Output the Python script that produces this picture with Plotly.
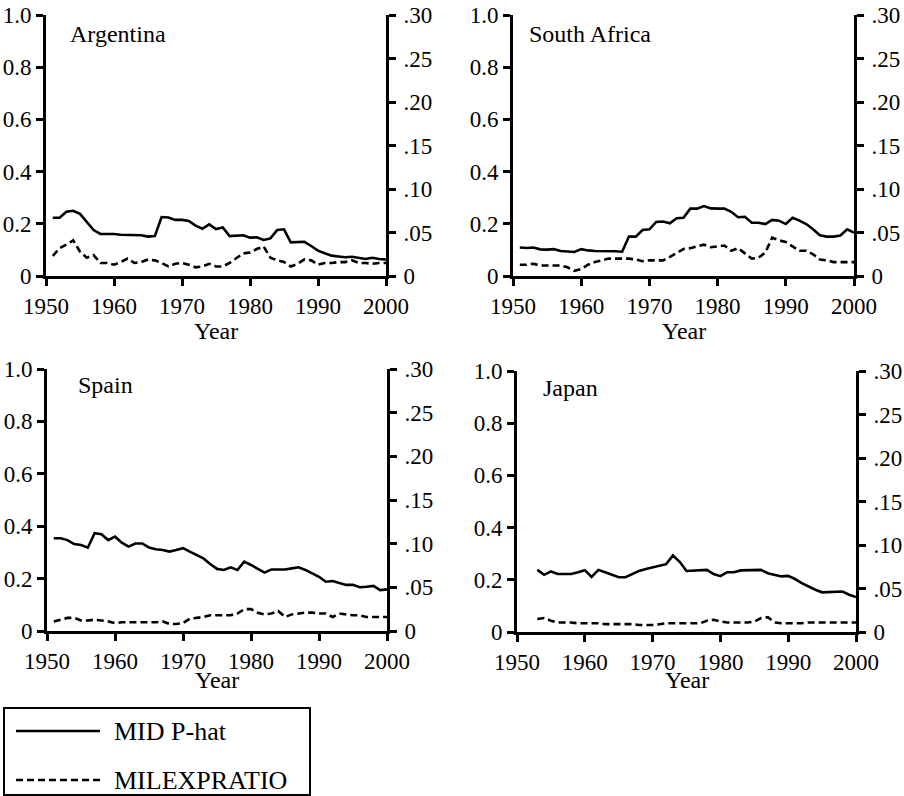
import plotly.graph_objects as go

# ---------------- data ----------------
COUNTRIES = ["Argentina", "South Africa", "Spain", "Japan"]

ARG_YEARS = list(range(1951, 2001))
ARG_PHAT = [0.223, 0.223, 0.246, 0.250, 0.238, 0.208, 0.176, 0.161, 0.161, 0.161,
            0.158, 0.158, 0.157, 0.156, 0.151, 0.153, 0.226, 0.224, 0.215, 0.215,
            0.211, 0.193, 0.181, 0.198, 0.180, 0.186, 0.153, 0.155, 0.156, 0.147,
            0.148, 0.138, 0.144, 0.176, 0.179, 0.129, 0.130, 0.131, 0.115, 0.097,
            0.087, 0.078, 0.075, 0.072, 0.074, 0.070, 0.065, 0.070, 0.065, 0.063]
ARG_MIL = [0.023, 0.032, 0.036, 0.041, 0.028, 0.021, 0.024, 0.015, 0.015, 0.013,
           0.016, 0.020, 0.015, 0.016, 0.019, 0.018, 0.015, 0.011, 0.014, 0.015,
           0.013, 0.010, 0.011, 0.014, 0.011, 0.011, 0.015, 0.020, 0.026, 0.027,
           0.031, 0.034, 0.021, 0.018, 0.016, 0.011, 0.014, 0.019, 0.018, 0.013,
           0.015, 0.015, 0.016, 0.016, 0.018, 0.015, 0.015, 0.014, 0.015, 0.015]

ZAF_YEARS = list(range(1951, 2001))
ZAF_PHAT = [0.109, 0.107, 0.109, 0.102, 0.101, 0.103, 0.096, 0.095, 0.092, 0.103,
            0.098, 0.096, 0.096, 0.095, 0.095, 0.093, 0.151, 0.151, 0.176, 0.179,
            0.207, 0.209, 0.202, 0.221, 0.223, 0.258, 0.258, 0.268, 0.259, 0.258,
            0.258, 0.246, 0.225, 0.227, 0.204, 0.204, 0.199, 0.215, 0.212, 0.199,
            0.223, 0.212, 0.199, 0.179, 0.156, 0.151, 0.151, 0.155, 0.179, 0.166]
ZAF_MIL = [0.013, 0.013, 0.014, 0.012, 0.012, 0.012, 0.012, 0.010, 0.006, 0.008,
           0.013, 0.016, 0.018, 0.020, 0.020, 0.020, 0.020, 0.019, 0.017, 0.018,
           0.018, 0.018, 0.022, 0.027, 0.031, 0.032, 0.034, 0.036, 0.033, 0.034,
           0.035, 0.029, 0.032, 0.026, 0.020, 0.021, 0.027, 0.044, 0.041, 0.039,
           0.034, 0.029, 0.029, 0.025, 0.019, 0.018, 0.016, 0.016, 0.016, 0.016]

ESP_YEARS = list(range(1951, 2001))
ESP_PHAT = [0.354, 0.354, 0.347, 0.332, 0.328, 0.318, 0.373, 0.369, 0.347, 0.360,
            0.337, 0.322, 0.334, 0.334, 0.319, 0.312, 0.309, 0.303, 0.309, 0.316,
            0.303, 0.290, 0.277, 0.256, 0.237, 0.233, 0.243, 0.233, 0.265, 0.252,
            0.237, 0.223, 0.235, 0.235, 0.235, 0.239, 0.243, 0.233, 0.220, 0.207,
            0.188, 0.191, 0.183, 0.176, 0.176, 0.167, 0.169, 0.172, 0.156, 0.159]
ESP_MIL = [0.011, 0.013, 0.015, 0.015, 0.012, 0.012, 0.013, 0.012, 0.011, 0.009,
           0.010, 0.010, 0.010, 0.010, 0.010, 0.010, 0.011, 0.008, 0.008, 0.009,
           0.014, 0.015, 0.016, 0.018, 0.018, 0.018, 0.018, 0.020, 0.025, 0.025,
           0.021, 0.019, 0.020, 0.023, 0.016, 0.019, 0.020, 0.021, 0.021, 0.020,
           0.020, 0.016, 0.020, 0.019, 0.018, 0.018, 0.016, 0.016, 0.016, 0.016]

JPN_YEARS = list(range(1953, 2001))
JPN_PHAT = [0.238, 0.219, 0.232, 0.222, 0.222, 0.222, 0.229, 0.237,
            0.211, 0.238, 0.229, 0.220, 0.210, 0.210, 0.222, 0.234, 0.241, 0.247,
            0.255, 0.260, 0.293, 0.269, 0.234, 0.236, 0.237, 0.238, 0.222, 0.214,
            0.229, 0.229, 0.236, 0.236, 0.237, 0.238, 0.225, 0.219, 0.213, 0.215,
            0.203, 0.187, 0.173, 0.162, 0.152, 0.153, 0.154, 0.155, 0.143, 0.134]
JPN_MIL = [0.015, 0.016, 0.013, 0.011, 0.011, 0.011, 0.010, 0.010,
           0.010, 0.010, 0.009, 0.009, 0.009, 0.009, 0.009, 0.008, 0.008, 0.008,
           0.009, 0.010, 0.010, 0.010, 0.010, 0.010, 0.010, 0.013, 0.014, 0.012,
           0.011, 0.011, 0.011, 0.011, 0.012, 0.016, 0.017, 0.011, 0.010, 0.010,
           0.010, 0.010, 0.011, 0.011, 0.011, 0.011, 0.011, 0.011, 0.011, 0.011]

X_TICKS = [1950, 1960, 1970, 1980, 1990, 2000]
LEFT_TICKS = [0, 0.2, 0.4, 0.6, 0.8, 1.0]
LEFT_LABELS = ["0", "0.2", "0.4", "0.6", "0.8", "1.0"]
RIGHT_TICKS = [0, 0.05, 0.10, 0.15, 0.20, 0.25, 0.30]
RIGHT_LABELS = ["0", ".05", ".10", ".15", ".20", ".25", ".30"]

SERIES_NAMES = ["MID P-hat", "MILEXPRATIO"]
X_TITLE = "Year"

# ---------------- layout helpers ----------------
W, H = 904, 796
FONT = "Liberation Serif, Times New Roman, DejaVu Serif, serif"
FS_TICK = 23
FS_TEXT = 24
FS_LEG = 26
DASH = "7px,4px"
LW = 2.6
AXW = 3

def px_x(v):
    return v / W

def px_y(v):
    return 1 - v / H

# panel pixel boxes: (left, right, top, bottom)
PANELS = [
    (46, 386, 15, 276),
    (513, 854, 15, 276),
    (47, 387, 369, 631),
    (517, 856, 371, 632),
]
TITLE_POS = [(68, 34), (527, 34), (76, 385), (541, 388)]
XTITLE_Y = [331, 331, 680, 680]

data = [
    (ARG_YEARS, ARG_PHAT, ARG_MIL),
    (ZAF_YEARS, ZAF_PHAT, ZAF_MIL),
    (ESP_YEARS, ESP_PHAT, ESP_MIL),
    (JPN_YEARS, JPN_PHAT, JPN_MIL),
]

fig = go.Figure()
layout = dict(
    width=W, height=H,
    margin=dict(l=0, r=0, t=0, b=0, autoexpand=False),
    paper_bgcolor="white", plot_bgcolor="white",
    font=dict(family=FONT, size=FS_TICK, color="black"),
    showlegend=False,
)

annotations = []
for i, ((yrs, phat, mil), box, name, tpos, xty) in enumerate(zip(data, PANELS, COUNTRIES, TITLE_POS, XTITLE_Y)):
    xa = "x" if i == 0 else f"x{i+1}"
    ya_l = "y" if i == 0 else f"y{2*i+1}"
    ya_r = f"y{2*i+2}"
    l, r, t, b = box
    xdom = [px_x(l), px_x(r)]
    ydom = [px_y(b), px_y(t)]

    fig.add_trace(go.Scatter(
        x=yrs, y=phat, xaxis=xa, yaxis=ya_l, mode="lines",
        line=dict(color="black", width=LW),
        name=SERIES_NAMES[0], cliponaxis=False,
    ))
    fig.add_trace(go.Scatter(
        x=yrs, y=mil, xaxis=xa, yaxis=ya_r, mode="lines",
        line=dict(color="black", width=LW, dash=DASH),
        name=SERIES_NAMES[1], cliponaxis=False,
    ))

    xkey = "xaxis" if i == 0 else f"xaxis{i+1}"
    ykey_l = "yaxis" if i == 0 else f"yaxis{2*i+1}"
    ykey_r = f"yaxis{2*i+2}"
    common = dict(
        ticks="outside", ticklen=7, tickwidth=AXW, tickcolor="black",
        showline=True, linewidth=AXW, linecolor="black",
        showgrid=False, zeroline=False, tickfont=dict(size=FS_TICK),
        fixedrange=True,
    )
    layout[xkey] = dict(
        domain=xdom, anchor=ya_l, range=[1950, 2000],
        tickmode="array", tickvals=X_TICKS, ticktext=[str(v) for v in X_TICKS],
        **common,
    )
    layout[ykey_l] = dict(
        domain=ydom, anchor=xa, range=[0, 1.0],
        tickmode="array", tickvals=LEFT_TICKS, ticktext=LEFT_LABELS,
        **common,
    )
    layout[ykey_r] = dict(
        domain=ydom, anchor=xa, overlaying=ya_l, side="right", range=[0, 0.30],
        tickmode="array", tickvals=RIGHT_TICKS, ticktext=RIGHT_LABELS,
        ticklabelstandoff=3,
        **common,
    )
    annotations.append(dict(
        text=name, xref="paper", yref="paper",
        x=px_x(tpos[0]), y=px_y(tpos[1]), xanchor="left", yanchor="middle",
        showarrow=False, font=dict(size=FS_TEXT, family=FONT),
    ))
    annotations.append(dict(
        text=X_TITLE, xref="paper", yref="paper",
        x=px_x((l + r) / 2), y=px_y(xty), xanchor="center", yanchor="middle",
        showarrow=False, font=dict(size=FS_TEXT, family=FONT),
    ))

# ---------------- legend (drawn as a boxed key) ----------------
LEG_BOX = (4, 708, 310, 795)   # left, top, right, bottom (px)
LEG_ROWS = [731, 780]
LEG_LINE_X = (16, 100)
LEG_TEXT_X = 112
shapes = [dict(
    type="rect", xref="paper", yref="paper",
    x0=px_x(LEG_BOX[0]), x1=px_x(LEG_BOX[2]),
    y0=px_y(LEG_BOX[3]), y1=px_y(LEG_BOX[1]),
    line=dict(color="black", width=2), fillcolor="rgba(0,0,0,0)",
)]
for ry, nm, dash in zip(LEG_ROWS, SERIES_NAMES, ["solid", DASH]):
    shapes.append(dict(
        type="line", xref="paper", yref="paper",
        x0=px_x(LEG_LINE_X[0]), x1=px_x(LEG_LINE_X[1]),
        y0=px_y(ry), y1=px_y(ry),
        line=dict(color="black", width=LW, dash=dash),
    ))
    annotations.append(dict(
        text=nm, xref="paper", yref="paper",
        x=px_x(LEG_TEXT_X), y=px_y(ry), xanchor="left", yanchor="middle",
        showarrow=False, font=dict(size=FS_LEG, family=FONT),
    ))

layout["annotations"] = annotations
layout["shapes"] = shapes
fig.update_layout(**layout)
fig.write_html(
    "out.html",
    config={"displayModeBar": False},
    post_script="document.body.style.margin='0';document.body.style.overflow='hidden';",
)
